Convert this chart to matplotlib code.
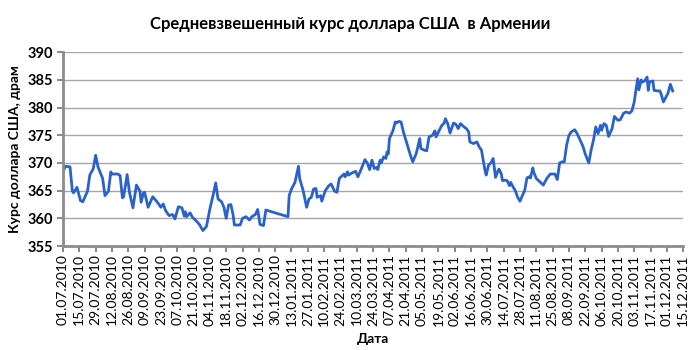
import matplotlib
matplotlib.use("Agg")
from matplotlib import pyplot as plt
import matplotlib.dates as mdates
import pandas as pd

plt.rcParams['font.family'] = ['Lato', 'DejaVu Sans']

# days since 01.07.2010 and the weighted average rate (AMD per USD)
days = [0, 2, 6, 8, 9, 12, 15, 17, 21, 23, 26, 28, 30, 34, 36, 39, 41, 42, 47, 49,
        51, 52, 55, 57, 60, 63, 66, 67, 69, 70, 73, 77, 81, 84, 86, 88, 91, 94, 96, 99,
        102, 104, 105, 106, 109, 111, 114, 117, 120, 123, 126, 129, 131, 133, 136, 138, 140, 142, 144, 146,
        147, 150, 152, 154, 157, 160, 162, 165, 167, 169, 172, 174, 193, 194, 196, 199, 202, 203, 206, 209,
        211, 213, 215, 217, 218, 221, 222, 225, 228, 230, 233, 235, 237, 239, 241, 242, 244, 245, 247, 251,
        253, 256, 259, 261, 263, 265, 267, 269, 270, 272, 273, 275, 277, 278, 279, 280, 283, 285, 286, 288,
        290, 292, 295, 298, 300, 303, 306, 307, 310, 312, 314, 317, 319, 320, 323, 325, 327, 328, 330, 332,
        335, 337, 339, 341, 344, 346, 348, 349, 352, 355, 357, 359, 362, 363, 365, 367, 369, 371, 373, 374,
        376, 377, 379, 381, 383, 384, 386, 388, 390, 392, 394, 396, 398, 400, 401, 403, 404, 406, 409, 412,
        415, 418, 421, 422, 424, 426, 428, 430, 432, 434, 436, 439, 441, 443, 446, 448, 451, 453, 455, 457,
        459, 461, 462, 464, 466, 468, 471, 473, 476, 478, 481, 483, 486, 488, 490, 491, 493, 494, 496, 497,
        499, 501, 502, 503, 506, 507, 510, 512, 513, 515, 517, 519, 521, 523]
rate = [368.4, 369.4, 369.3, 365.0, 364.6, 365.6, 363.2, 363.0, 364.9, 367.8, 369.0, 371.4, 369.3, 367.2, 364.1, 364.9, 368.4, 368.0, 368.0, 367.7,
        363.7, 363.9, 367.9, 364.7, 361.9, 366.0, 364.9, 362.9, 364.6, 364.7, 362.0, 363.9, 362.9, 362.0, 362.6, 361.4, 360.5, 360.7, 359.9, 362.1,
        361.9, 360.4, 361.2, 360.3, 361.0, 360.2, 359.6, 358.9, 357.8, 358.5, 361.7, 364.4, 366.4, 363.5, 363.0, 362.0, 360.0, 362.4, 362.5, 360.5,
        358.8, 358.8, 358.8, 360.0, 360.3, 359.7, 360.3, 360.7, 361.6, 358.9, 358.7, 361.5, 360.3, 364.1, 365.3, 366.5, 369.4, 367.2, 365.0, 362.0,
        363.5, 363.8, 365.3, 365.4, 363.8, 364.1, 363.1, 365.0, 365.9, 366.2, 364.9, 364.7, 367.2, 367.6, 368.0, 367.5, 368.4, 367.8, 368.1, 368.5,
        367.5, 369.0, 370.6, 370.0, 368.8, 370.5, 369.0, 369.2, 368.8, 370.5, 370.0, 371.1, 370.8, 372.0, 371.6, 374.4, 375.8, 377.4, 377.2, 377.5,
        377.4, 375.6, 373.5, 371.4, 370.2, 371.7, 374.4, 372.6, 372.3, 372.2, 374.7, 375.0, 375.8, 374.7, 376.0, 376.8, 377.2, 378.0, 377.1, 375.4,
        377.2, 377.0, 376.2, 377.1, 376.5, 376.2, 375.6, 373.8, 373.5, 373.8, 372.9, 372.3, 368.6, 367.8, 369.6, 370.0, 370.8, 367.4, 368.5, 368.9,
        368.0, 366.8, 366.9, 366.8, 365.9, 366.5, 365.7, 365.0, 363.8, 363.1, 364.1, 365.0, 367.3, 367.5, 367.3, 369.1, 368.2, 367.2, 366.6, 366.0,
        367.2, 368.0, 368.0, 368.0, 367.0, 370.0, 370.2, 370.2, 373.2, 375.0, 375.6, 376.0, 375.3, 374.4, 373.0, 371.6, 370.0, 372.3, 374.1, 376.5,
        375.3, 376.8, 375.9, 377.1, 376.8, 374.8, 376.2, 378.4, 377.7, 377.8, 379.0, 379.2, 379.0, 379.4, 381.0, 382.5, 385.2, 383.2, 385.0, 384.6,
        384.8, 385.5, 383.1, 384.6, 384.8, 383.1, 383.0, 383.0, 382.5, 381.0, 381.8, 382.6, 384.2, 383.0]

start = pd.Timestamp("2010-07-01")
end = pd.Timestamp("2011-12-15")
dates = start + pd.to_timedelta(days, unit="D")
xticks = pd.date_range(start, end, freq="14D")
yticks = [355, 360, 365, 370, 375, 380, 385, 390]

fig = plt.figure(figsize=(7, 3.5), dpi=100)
ax = fig.add_axes([0.09, 0.297, 0.886, 0.554])

ax.plot(dates, rate, color="#2a62c9", linewidth=2.0)

ax.set_xlim(start, end)
ax.set_ylim(355, 390)
ax.set_xticks(xticks)
ax.xaxis.set_major_formatter(mdates.DateFormatter("%d.%m.%Y"))
ax.set_yticks(yticks)
ax.tick_params(axis="x", labelrotation=90, labelsize=10, length=4, width=1.5, color="#8c8c8c", pad=2)
ax.tick_params(axis="y", labelsize=10.5, length=4, width=1.5, color="#8c8c8c", pad=3)
for lbl in ax.get_yticklabels():
    lbl.set_fontweight("bold")

ax.grid(axis="y", color="#a6a6a6", linewidth=1)
ax.set_axisbelow(True)
for s in ["top", "right"]:
    ax.spines[s].set_visible(False)
for s in ["left", "bottom"]:
    ax.spines[s].set_color("#8c8c8c")
    ax.spines[s].set_linewidth(2)

ax.set_xlabel("Дата", fontsize=10, fontweight="bold", labelpad=5)
ax.set_ylabel("Курс доллара США, драм", fontsize=10, fontweight="bold", labelpad=5)
fig.suptitle("Средневзвешенный курс доллара США  в Армении", fontsize=12, fontweight="bold", y=0.955)

fig.savefig("out.png", dpi=100)
